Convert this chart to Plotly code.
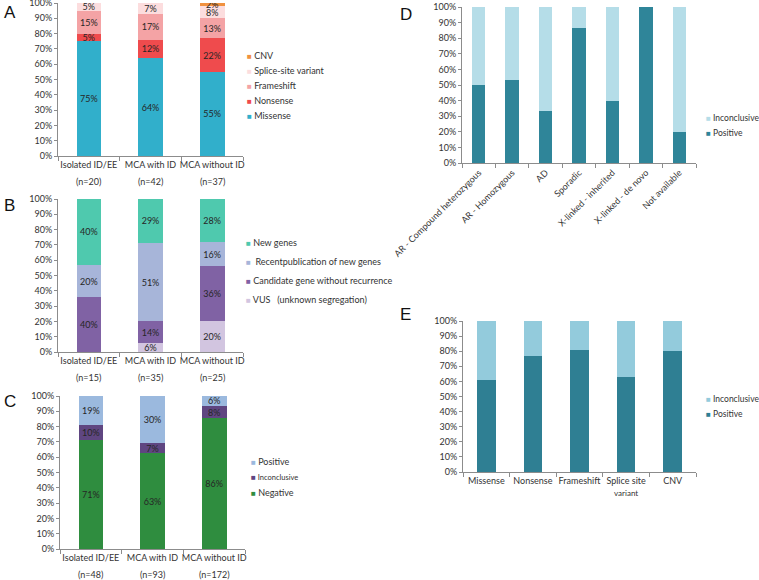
import plotly.graph_objects as go

W, H = 759, 580
FONT = "Lato"

# ---------------- data ----------------
groups = ["Isolated ID/EE", "MCA with ID", "MCA without ID"]

# Panel A
a_n = ["(n=20)", "(n=42)", "(n=37)"]
a_series = ["Missense", "Nonsense", "Frameshift", "Splice-site variant", "CNV"]
a_values = [
    [75, 64, 55],
    [5, 12, 22],
    [15, 17, 13],
    [5, 7, 8],
    [0, 0, 2],
]
a_labels = [
    ["75%", "64%", "55%"],
    ["5%", "12%", "22%"],
    ["15%", "17%", "13%"],
    ["5%", "7%", "8%"],
    ["", "", "2%"],
]
a_colors = ["#31AFCB", "#EF4B4D", "#F4A3A5", "#FCDDDE", "#F0913F"]

# Panel B
b_n = ["(n=15)", "(n=35)", "(n=25)"]
b_series = ["VUS   (unknown segregation)", "Candidate gene without recurrence",
            " Recentpublication of new genes", "New genes"]
b_values = [
    [0, 5.7, 20],
    [35.7, 14.3, 36],
    [21.4, 51.4, 16],
    [42.9, 28.6, 28],
]
b_labels = [
    ["", "6%", "20%"],
    ["40%", "14%", "36%"],
    ["20%", "51%", "16%"],
    ["40%", "29%", "28%"],
]
b_colors = ["#D2C5E0", "#8062A4", "#A7B5D9", "#4FC9AE"]

# Panel C
c_n = ["(n=48)", "(n=93)", "(n=172)"]
c_series = ["Negative", "Inconclusive", "Positive"]
c_values = [
    [71, 62.5, 85.5],
    [10, 7, 8],
    [19, 30.5, 6.5],
]
c_labels = [
    ["71%", "63%", "86%"],
    ["10%", "7%", "8%"],
    ["19%", "30%", "6%"],
]
c_colors = ["#2F8D3F", "#5F4681", "#9BB9DE"]

# Panel D
d_cats = ["AR - Compound heterozygous", "AR - Homozygous", "AD", "Sporadic",
          "X-linked - inherited", "X-linked - de novo", "Not available"]
d_series = ["Positive", "Inconclusive"]
d_values = [
    [50, 53, 33.3, 86.5, 40, 100, 20],
    [50, 47, 66.7, 13.5, 60, 0, 80],
]
d_colors = ["#2F8599", "#B5DDE8"]

# Panel E
e_cats = ["Missense", "Nonsense", "Frameshift",
          "Splice site<br><span style='font-size:8px'>variant</span>", "CNV"]
e_series = ["Positive", "Inconclusive"]
e_values = [
    [61, 77, 81, 62.7, 80.2],
    [39, 23, 19, 37.3, 19.8],
]
e_colors = ["#2F7F93", "#93CBDC"]

y_ticks = list(range(0, 101, 10))

# ---------------- helpers ----------------
def xd(a, b):
    return [a / W, b / W]

def yd(top, bottom):
    return [1 - bottom / H, 1 - top / H]

fig = go.Figure()

def add_stack(series, values, colors, cats, xa, ya, labels=None):
    for i, name in enumerate(series):
        if labels is not None:
            kw = dict(text=labels[i], textposition="inside", insidetextanchor="middle",
                      textangle=0, constraintext="none",
                      textfont=dict(size=9, color="#262626", family=FONT))
        else:
            kw = dict(textposition="none")
        fig.add_trace(go.Bar(x=cats, y=values[i], name=name, marker_color=colors[i],
                             marker_line_width=0, width=0.4, xaxis=xa, yaxis=ya,
                             showlegend=False, hoverinfo="name+y", **kw))

add_stack(a_series, a_values, a_colors, groups, "x", "y", a_labels)
add_stack(b_series, b_values, b_colors, groups, "x2", "y2", b_labels)
add_stack(c_series, c_values, c_colors, groups, "x3", "y3", c_labels)
add_stack(d_series, d_values, d_colors, d_cats, "x4", "y4")
add_stack(e_series, e_values, e_colors, e_cats, "x5", "y5")

axcol = "#8C8C8C"
tickfont = dict(size=9, color="#333333", family=FONT)

def xaxis(dom, anchor, angle=0, **extra):
    d = dict(domain=dom, anchor=anchor, showline=True, linecolor=axcol, linewidth=1,
             ticks="outside", tickson="boundaries", ticklen=4, tickcolor=axcol,
             showgrid=False, zeroline=False, tickfont=tickfont, fixedrange=True,
             type="category", tickangle=angle, automargin=False,
             ticklabeloverflow="allow")
    d.update(extra)
    return d

def yaxis(dom, anchor):
    return dict(domain=dom, anchor=anchor, range=[0, 100], tickvals=y_ticks,
                ticktext=[f"{v}%" for v in y_ticks], showline=True, linecolor=axcol,
                linewidth=1, ticks="outside", ticklen=3, tickcolor=axcol,
                showgrid=False, zeroline=False, tickfont=tickfont, fixedrange=True,
                automargin=False, ticklabeloverflow="allow")

layout = dict(
    template="none",
    width=W, height=H, margin=dict(l=0, r=0, t=0, b=0, pad=0), autosize=False,
    paper_bgcolor="white", plot_bgcolor="white", barmode="stack",
    font=dict(family=FONT, size=9, color="#333333"),
    showlegend=False,
    xaxis=xaxis(xd(58, 243), "y"), yaxis=yaxis(yd(3, 156), "x"),
    xaxis2=xaxis(xd(58, 243), "y2"), yaxis2=yaxis(yd(199, 352), "x2"),
    xaxis3=xaxis(xd(60, 245), "y3"), yaxis3=yaxis(yd(396, 549), "x3"),
    xaxis4=xaxis(xd(462, 696), "y4", angle=-45), yaxis4=yaxis(yd(7, 163), "x4"),
    xaxis5=xaxis(xd(463, 696), "y5"), yaxis5=yaxis(yd(321, 472), "x5"),
)
fig.update_layout(**layout)

ann = []
# second line of category labels (sample sizes)
for xa, ns, ypx in [("x", a_n, 181), ("x2", b_n, 377), ("x3", c_n, 574)]:
    for g, n in zip(groups, ns):
        ann.append(dict(x=g, xref=xa, y=1 - ypx / H, yref="paper", text=n,
                        showarrow=False, yanchor="middle", xanchor="center",
                        font=tickfont))

# legends (drawn as text entries)
def legend(names, colors, xpx, ypxs, sizes=None, base=9):
    for k, (nm, col, ypx) in enumerate(zip(names, colors, ypxs)):
        fs = sizes[k] if sizes else base
        ann.append(dict(x=xpx / W, xref="paper", y=1 - ypx / H, yref="paper",
                        xanchor="left", yanchor="middle", showarrow=False,
                        text=f"<span style='color:{col};font-size:8px'>■</span> {nm}",
                        font=dict(size=fs, color="#333333", family=FONT)))

legend(a_series[::-1], a_colors[::-1], 245, [55, 70, 85, 100, 116])
legend(b_series[::-1], b_colors[::-1], 244, [242, 261, 280, 299])
legend(c_series[::-1], c_colors[::-1], 249, [461, 477, 492], sizes=[9, 7.5, 9])
legend(d_series[::-1], d_colors[::-1], 704, [118, 133], base=8.5)
legend(e_series[::-1], e_colors[::-1], 704, [399, 414], base=8.5)

# panel letters
for letter, xpx, ypx in [("A", 2, 13), ("B", 2, 206), ("C", 2, 401),
                         ("D", 398, 14), ("E", 398, 314)]:
    ann.append(dict(x=xpx / W, xref="paper", y=1 - ypx / H, yref="paper",
                    xanchor="left", yanchor="middle", showarrow=False, text=letter,
                    font=dict(size=17, color="#111111", family="Liberation Sans")))

fig.update_layout(annotations=ann)
fig.write_html(
    "out.html",
    config={"displayModeBar": False},
    post_script="document.body.style.margin='0';document.body.style.overflow='hidden';",
)
